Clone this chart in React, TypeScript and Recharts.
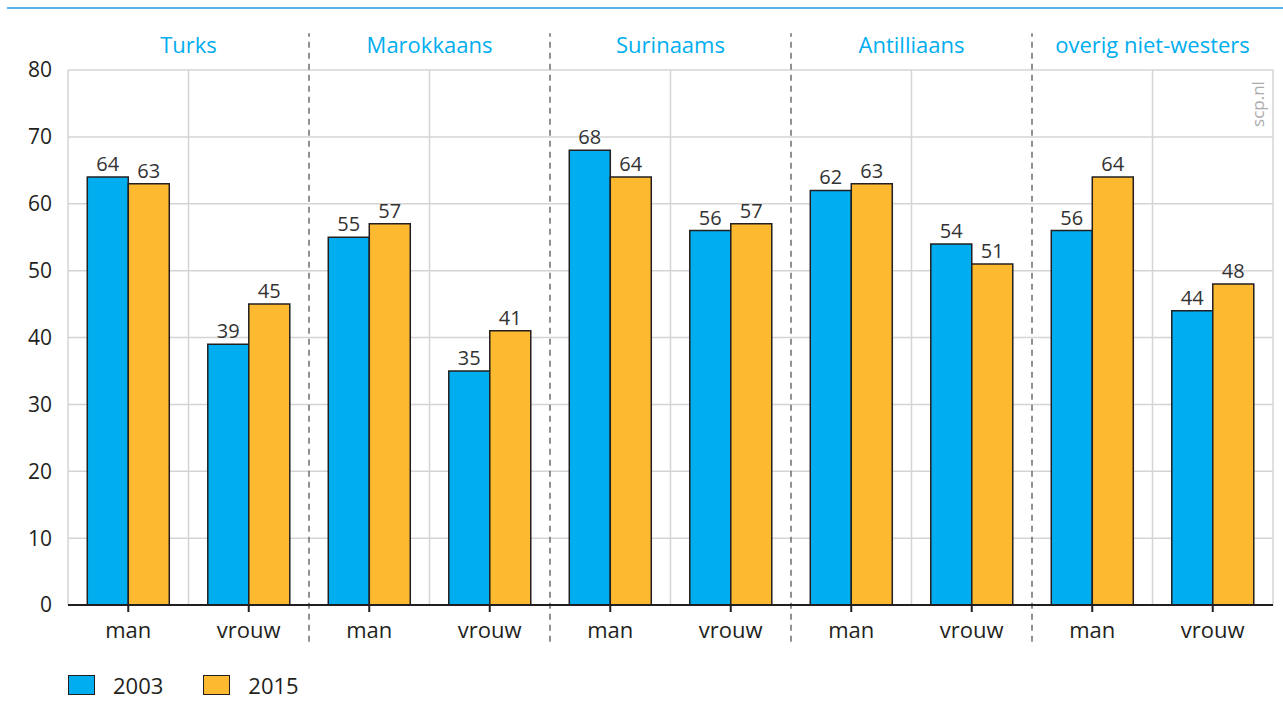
import { BarChart, Bar, XAxis, YAxis, CartesianGrid, ReferenceLine, LabelList, Customized } from 'recharts'

const groups = ['Turks', 'Marokkaans', 'Surinaams', 'Antilliaans', 'overig niet-westers']
const genders = ['man', 'vrouw']
const values2003 = [64, 39, 55, 35, 68, 56, 62, 54, 56, 44]
const values2015 = [63, 45, 57, 41, 64, 57, 63, 51, 64, 48]
const yTicks = [0, 10, 20, 30, 40, 50, 60, 70, 80]
const seriesNames = ['2003', '2015']

const BLUE = '#00aeef'
const ORANGE = '#fdb930'
const INK = '#231f20'
const GRID = '#d4d4d4'
const FONT = '"Open Sans", "DejaVu Sans", sans-serif'

const data = groups.flatMap((g, gi) =>
  genders.map((s, si) => ({
    key: `${g}|${s}`,
    group: g,
    gender: s,
    v2003: values2003[gi * 2 + si],
    v2015: values2015[gi * 2 + si],
  }))
)

const ScpMark = () => (
  <text
    x={1264}
    y={104}
    transform="rotate(-90 1264 104)"
    textAnchor="middle"
    fill="#aaaaaa"
    fontSize={17}
    fontFamily={FONT}
  >
    scp.nl
  </text>
)

export default function App() {
  const solidAt = [0, 1, 3, 5, 7, 9]
  const dashedAt = [2, 4, 6, 8]
  return (
    <div style={{ position: 'absolute', top: 0, left: 0, width: 1283, height: 722, background: '#fff', fontFamily: FONT }}>
      <div style={{ position: 'absolute', top: 7, left: 7, width: 1276, height: 2, background: '#55b3e6' }} />
      <BarChart
        width={1283}
        height={722}
        data={data}
        margin={{ top: 70, right: 10, bottom: 87, left: 8 }}
        barCategoryGap="16%"
        barGap={0}
      >
        <CartesianGrid vertical={false} stroke={GRID} strokeWidth={1.5} />
        <YAxis
          domain={[0, 80]}
          ticks={yTicks}
          width={60}
          axisLine={false}
          tickLine={false}
          tickSize={0}
          tickMargin={16}
          tick={{ fill: INK, fontSize: 21, fontFamily: FONT }}
        />
        <XAxis
          dataKey="key"
          height={30}
          tickFormatter={(v: string) => v.split('|')[1]}
          axisLine={{ stroke: INK, strokeWidth: 2 }}
          tickLine={{ stroke: INK, strokeWidth: 2 }}
          tickSize={7}
          tickMargin={10}
          tick={{ fill: INK, fontSize: 22, fontFamily: FONT }}
        />
        {solidAt.map((i) => (
          <ReferenceLine key={`s${i}`} x={data[i].key} position="start" stroke={GRID} strokeWidth={1.5} />
        ))}
        <ReferenceLine x={data[data.length - 1].key} position="end" stroke={GRID} strokeWidth={1.5} />
        {dashedAt.map((i) => (
          <ReferenceLine
            key={`d${i}`}
            position="start"
            ifOverflow="visible"
            segment={[
              { x: data[i].key, y: -5.5 },
              { x: data[i].key, y: 85.5 },
            ]}
            stroke="#6d6e71"
            strokeWidth={1.5}
            strokeDasharray="6 5"
          />
        ))}
        {groups.map((g, gi) => (
          <ReferenceLine
            key={`h${g}`}
            x={data[gi * 2].key}
            position="end"
            stroke="none"
            label={{ value: g, position: 'top', offset: 17, fill: BLUE, fontSize: 22, fontFamily: FONT }}
          />
        ))}
        <Bar dataKey="v2003" name={seriesNames[0]} fill={BLUE} stroke={INK} strokeWidth={1.5} isAnimationActive={false}>
          <LabelList dataKey="v2003" position="top" offset={6} fill="#333" fontSize={20} fontFamily={FONT} />
        </Bar>
        <Bar dataKey="v2015" name={seriesNames[1]} fill={ORANGE} stroke={INK} strokeWidth={1.5} isAnimationActive={false}>
          <LabelList dataKey="v2015" position="top" offset={6} fill="#333" fontSize={20} fontFamily={FONT} />
        </Bar>
        <Customized component={<ScpMark />} />
      </BarChart>
      <div style={{ position: 'absolute', left: 68, top: 674, display: 'flex', alignItems: 'center' }}>
        {seriesNames.map((n, i) => (
          <div key={n} style={{ display: 'flex', alignItems: 'center', marginRight: 40 }}>
            <div style={{ width: 25, height: 18, background: i === 0 ? BLUE : ORANGE, border: `1.5px solid ${INK}` }} />
            <span style={{ marginLeft: 18, fontSize: 22, color: INK, lineHeight: '22px' }}>{n}</span>
          </div>
        ))}
      </div>
    </div>
  )
}
